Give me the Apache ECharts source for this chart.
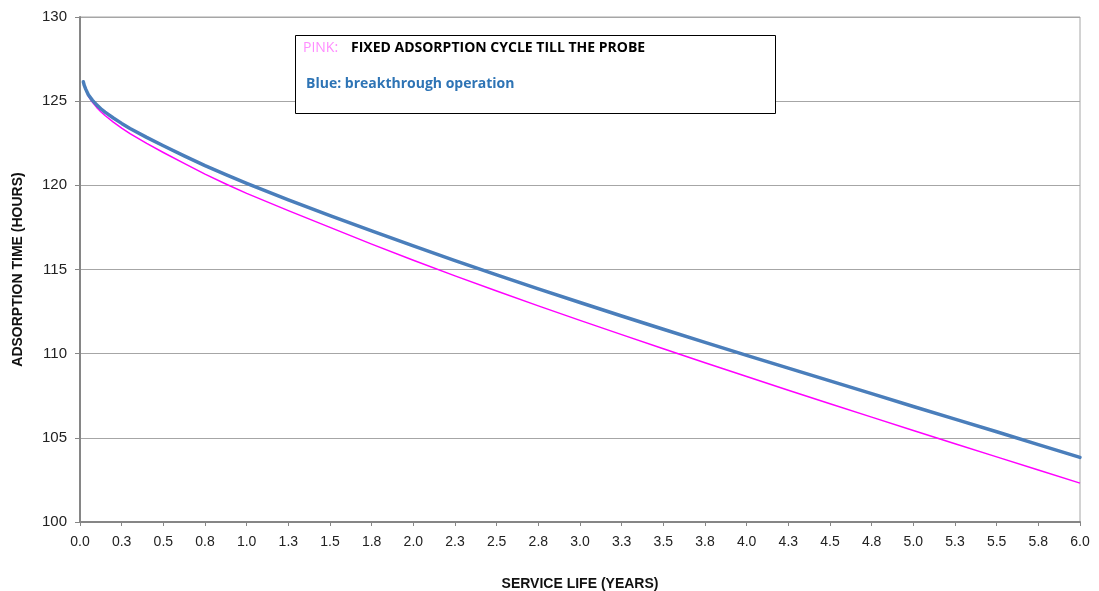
<!DOCTYPE html>
<html>
<head>
<meta charset="utf-8">
<script src="https://cdn.jsdelivr.net/npm/echarts@6/dist/echarts.min.js"></script>
<style>html,body{margin:0;padding:0;background:#fff;}#c{width:1099px;height:591px;}</style>
</head>
<body>
<div id="c"></div>
<script>
// Service life (years)
const years = [0.02,0.025,0.035,0.05,0.075,0.1,0.125,0.15,0.2,0.25,0.3,0.4,0.5,0.625,0.75,0.875,1.0,1.25,1.5,1.75,2.0,2.25,2.5,2.75,3.0,3.25,3.5,3.75,4.0,4.25,4.5,4.75,5.0,5.25,5.5,5.75,6.0];
// Blue: breakthrough operation (hours)
const blueHours = [126.15,125.95,125.7,125.38,125.05,124.78,124.55,124.35,124.0,123.68,123.38,122.85,122.35,121.75,121.17,120.63,120.12,119.14,118.2,117.29,116.4,115.53,114.68,113.85,113.04,112.24,111.45,110.67,109.9,109.14,108.38,107.63,106.86,106.11,105.36,104.6,103.84];
// Pink: fixed adsorption cycle till the probe (hours)
const pinkHours = [126.15,125.93,125.65,125.3,124.93,124.63,124.37,124.15,123.76,123.4,123.07,122.49,121.95,121.3,120.67,120.08,119.52,118.5,117.5,116.51,115.55,114.62,113.72,112.84,111.98,111.13,110.29,109.46,108.64,107.83,107.03,106.23,105.44,104.65,103.87,103.09,102.31];
const xTickLabels = ['0.0','0.3','0.5','0.8','1.0','1.3','1.5','1.8','2.0','2.3','2.5','2.8','3.0','3.3','3.5','3.8','4.0','4.3','4.5','4.8','5.0','5.3','5.5','5.8','6.0'];
const yTickLabels = ['100','105','110','115','120','125','130'];
const legendPinkLabel = 'PINK:';
const legendPinkText = 'FIXED ADSORPTION CYCLE TILL THE PROBE';
const legendBlueText = 'Blue: breakthrough operation';

const chart = echarts.init(document.getElementById('c'));
const font = '"Liberation Sans", Arial, sans-serif';
chart.setOption({
  animation: false,
  backgroundColor: '#fff',
  grid: {left: 80, right: 19, top: 17, bottom: 69, show: true, borderColor: '#a6a6a6', borderWidth: 1,
         containLabel: false, outerBoundsMode: 'none'},
  xAxis: {
    type: 'value', min: 0, max: 6, interval: 0.25,
    name: 'SERVICE LIFE (YEARS)', nameLocation: 'middle', nameGap: 55,
    nameTextStyle: {fontFamily: font, fontWeight: 'bold', fontSize: 14, color: '#111'},
    axisLine: {show: true, lineStyle: {color: '#868686', width: 2}},
    axisTick: {show: true, length: 4, lineStyle: {color: '#868686'}},
    axisLabel: {fontFamily: font, fontSize: 14, color: '#222', margin: 13,
      formatter: v => xTickLabels[Math.round(v / 0.25)]},
    splitLine: {show: false}
  },
  yAxis: {
    type: 'value', min: 100, max: 130, interval: 5,
    name: 'ADSORPTION TIME (HOURS)', nameLocation: 'middle', nameGap: 55, nameRotate: 90,
    nameTextStyle: {fontFamily: font, fontWeight: 'bold', fontSize: 14, color: '#111'},
    axisLine: {show: true, lineStyle: {color: '#868686', width: 2}},
    axisTick: {show: true, length: 5, lineStyle: {color: '#868686'}},
    axisLabel: {fontFamily: font, fontSize: 15, color: '#222', margin: 13,
      formatter: v => yTickLabels[Math.round((v - 100) / 5)]},
    splitLine: {show: true, lineStyle: {color: '#a6a6a6', width: 1}}
  },
  series: [
    {type: 'line', name: 'Blue', data: years.map((x, i) => [x, blueHours[i]]), smooth: false, showSymbol: false,
     lineStyle: {color: '#4a7ebb', width: 3.5, cap: 'round', join: 'round'}, z: 3},
    {type: 'line', name: 'Pink', data: years.map((x, i) => [x, pinkHours[i]]), smooth: false, showSymbol: false,
     lineStyle: {color: '#ff00ff', width: 1.5, join: 'round'}, z: 2}
  ],
  graphic: [
    {type: 'rect', left: 295, top: 35, shape: {width: 480, height: 78},
     style: {fill: '#fff', stroke: '#000', lineWidth: 1}, z: 10},
    {type: 'text', left: 303, top: 41, z: 11,
     style: {text: legendPinkLabel, fill: '#ff8cff', font: '14px "Open Sans", sans-serif'}},
    {type: 'text', left: 351, top: 41, z: 11,
     style: {text: legendPinkText, fill: '#000', font: 'bold 14px "Open Sans", sans-serif'}},
    {type: 'text', left: 306, top: 77, z: 11,
     style: {text: legendBlueText, fill: '#2e74b5', font: 'bold 14px "Open Sans", sans-serif'}}
  ]
});
</script>
</body>
</html>
